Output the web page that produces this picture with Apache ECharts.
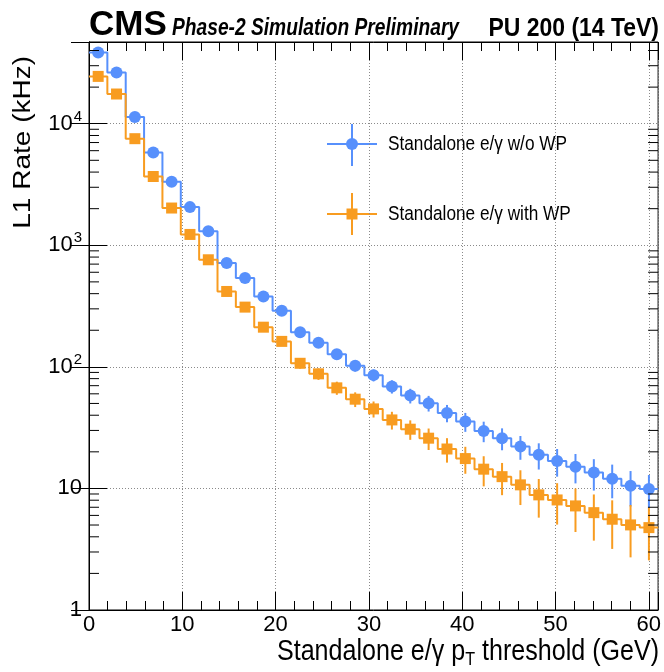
<!DOCTYPE html>
<html><head><meta charset="utf-8">
<script src="https://cdn.jsdelivr.net/npm/echarts@6/dist/echarts.min.js"></script>
<style>html,body{margin:0;padding:0;background:#fff}#c{width:664px;height:672px}</style>
</head><body><div id="c"></div>
<script>
// ---- data ----
const xRange = [0, 61];          // histogram range (GeV)
const nBins = 31;                // number of threshold bins
const rateNoWP = [38600, 26400, 11350, 5800, 3330, 2060, 1304, 714, 537, 379, 290, 193, 158, 127, 102, 85.5, 68.9, 58.0, 50.3, 41.8, 35.5, 29.7, 25.9, 22.1, 18.9, 16.8, 15.1, 13.5, 12.0, 10.5, 9.9];
const errNoWP  = [200, 165, 108, 77, 58, 46, 37, 27, 23, 20, 17.5, 14.5, 13, 12, 10.5, 9.5, 8.6, 8.0, 7.4, 6.8, 6.3, 5.7, 5.3, 4.9, 4.6, 4.3, 4.1, 3.9, 3.7, 3.4, 3.0];
const rateWP   = [24500, 17550, 7530, 3680, 2025, 1228, 760, 417, 310, 212, 162, 107, 87.6, 67.2, 54.2, 45.1, 36.6, 30.7, 25.9, 21.1, 17.6, 14.4, 12.5, 10.7, 8.85, 8.04, 7.18, 6.32, 5.58, 5.01, 4.76];
const errWP    = [160, 135, 88, 62, 46, 36, 28, 21, 18, 15, 13, 10.5, 9.5, 8.3, 7.5, 6.8, 6.1, 5.6, 5.2, 4.8, 4.4, 4.0, 3.7, 3.4, 3.1, 3.0, 2.8, 2.6, 2.4, 2.3, 2.2];
const seriesNames = ['Standalone e/\u03b3 w/o WP', 'Standalone e/\u03b3 with WP'];
const xTickValues = [0, 10, 20, 30, 40, 50, 60];
const yRange = [1, 47000];

const BLUE = '#5790fc', ORANGE = '#f89c20';
const FONT = 'Liberation Sans, Arial, Helvetica, sans-serif';

const binW = (xRange[1] - xRange[0]) / nBins;
const edges = Array.from({length: nBins + 1}, (_, i) => xRange[0] + i * binW);
const centers = edges.slice(0, nBins).map(e => e + binW / 2);

function stepData(vals) {
  const d = [];
  vals.forEach((v, i) => { d.push([edges[i], v]); d.push([edges[i + 1], v]); });
  return d;
}
function pts(vals) { return vals.map((v, i) => [centers[i], v]); }
function errData(vals, errs) { return vals.map((v, i) => [centers[i], v, errs[i]]); }

function errRender(color) {
  return function (params, api) {
    const x = api.value(0), v = api.value(1), e = api.value(2);
    const p1 = api.coord([x, v + e]);
    const p2 = api.coord([x, Math.max(v - e, yRange[0])]);
    return {type: 'line', shape: {x1: p1[0], y1: p1[1], x2: p2[0], y2: p2[1]},
            style: {stroke: color, lineWidth: 2}};
  };
}

// minor log ticks (2..9 x 10^k) drawn on left and right frame edges
const minorY = [];
for (let k = 0; k < 5; k++) for (let m = 2; m <= 9; m++) { const v = m * Math.pow(10, k); if (v < yRange[1]) minorY.push([xRange[0], v]); }

const chart = echarts.init(document.getElementById('c'), null, {renderer: 'canvas'});

const axisCommon = {
  axisLine: {show: true, lineStyle: {color: '#000', width: 1}},
  axisTick: {show: true, inside: true, length: 18, lineStyle: {color: '#000', width: 1}},
};

const option = {
  animation: false,
  backgroundColor: '#fff',
  grid: {left: 89, right: 5, top: 42, bottom: 62, show: true, borderColor: '#000', borderWidth: 1, containLabel: false},
  xAxis: [
    Object.assign({type: 'value', min: xRange[0], max: xRange[1], interval: 10, position: 'bottom',
      minorTick: {show: true, splitNumber: 5, length: 9, lineStyle: {color: '#000', width: 1}},
      axisLabel: {show: true, color: '#000', fontSize: 22, fontFamily: FONT, margin: 4, showMaxLabel: false,
        formatter: v => (xTickValues.indexOf(v) >= 0 ? String(v) : '')},
      splitLine: {show: true, lineStyle: {color: '#8a8a8a', width: 1, type: [1, 2]}}
    }, axisCommon),
    Object.assign({type: 'value', min: xRange[0], max: xRange[1], interval: 10, position: 'top',
      minorTick: {show: true, splitNumber: 5, length: 9, lineStyle: {color: '#000', width: 1}},
      axisLabel: {show: false}, splitLine: {show: false}
    }, axisCommon)
  ],
  yAxis: [
    Object.assign({type: 'log', logBase: 10, min: yRange[0], max: yRange[1], position: 'left',
      axisLabel: {show: true, color: '#000', fontFamily: FONT, margin: 7, showMaxLabel: false,
        formatter: v => {
          const k = Math.round(Math.log10(v));
          if (k === 0) return '{b|1}';
          if (k === 1) return '{b|10}';
          return '{b|10}{s|' + k + '}';
        },
        rich: {b: {fontSize: 22, fontFamily: FONT, color: '#000'},
               s: {fontSize: 15, fontFamily: FONT, color: '#000', padding: [0, 0, 14, 1]}}},
      splitLine: {show: true, lineStyle: {color: '#8a8a8a', width: 1, type: [1, 2]}}
    }, axisCommon),
    Object.assign({type: 'log', logBase: 10, min: yRange[0], max: yRange[1], position: 'right',
      axisLabel: {show: false}, splitLine: {show: false}
    }, axisCommon)
  ],
  series: [
    {type: 'custom', name: 'minorTicks', silent: true, clip: false, data: minorY, z: 5,
      renderItem: (params, api) => {
        const v = api.value(1);
        const l = api.coord([xRange[0], v]), r = api.coord([xRange[1], v]);
        return {type: 'group', children: [
          {type: 'line', shape: {x1: l[0], y1: l[1], x2: l[0] + 10, y2: l[1]}, style: {stroke: '#000', lineWidth: 1}},
          {type: 'line', shape: {x1: r[0], y1: r[1], x2: r[0] - 10, y2: r[1]}, style: {stroke: '#000', lineWidth: 1}}
        ]};
      }},
    {type: 'line', name: seriesNames[0] + ' hist', data: stepData(rateNoWP), showSymbol: false, symbol: 'none',
      lineStyle: {color: BLUE, width: 2}, z: 2, silent: true},
    {type: 'line', name: seriesNames[1] + ' hist', data: stepData(rateWP), showSymbol: false, symbol: 'none',
      lineStyle: {color: ORANGE, width: 2}, z: 2, silent: true},
    {type: 'custom', name: seriesNames[0] + ' err', data: errData(rateNoWP, errNoWP), renderItem: errRender(BLUE), z: 3, silent: true},
    {type: 'custom', name: seriesNames[1] + ' err', data: errData(rateWP, errWP), renderItem: errRender(ORANGE), z: 3, silent: true},
    {type: 'scatter', name: seriesNames[0], data: pts(rateNoWP), symbol: 'circle', symbolSize: 12,
      itemStyle: {color: BLUE, opacity: 1}, z: 4, silent: true},
    {type: 'scatter', name: seriesNames[1], data: pts(rateWP), symbol: 'rect', symbolSize: 11,
      itemStyle: {color: ORANGE, opacity: 1}, z: 4, silent: true}
  ],
  graphic: [
    {type: 'text', x: 89, y: 25, style: {text: 'CMS', font: 'bold 35px ' + FONT, fill: '#000', align: 'left', verticalAlign: 'middle'}},
    {type: 'text', x: 172, y: 28.5, scaleX: 0.80, style: {text: 'Phase-2 Simulation Preliminary', font: 'italic bold 24px ' + FONT, fill: '#000', align: 'left', verticalAlign: 'middle'}},
    {type: 'text', x: 659, y: 28.5, scaleX: 0.90, style: {text: 'PU 200 (14 TeV)', font: 'bold 25.5px ' + FONT, fill: '#000', align: 'right', verticalAlign: 'middle'}},
    {type: 'text', x: 659, y: 652, scaleX: 0.85, style: {
      text: 'Standalone e/\u03b3 p{sub|T} threshold (GeV)', font: '29.5px ' + FONT, fill: '#000', align: 'right', verticalAlign: 'middle',
      rich: {sub: {fontSize: 19, fontFamily: FONT, fill: '#000', padding: [16, 0, 0, 0]}}}},
    {type: 'text', x: 23, y: 56, rotation: Math.PI / 2, scaleY: 0.85, style: {text: 'L1 Rate (kHz)', font: '28px ' + FONT, fill: '#000', align: 'right', verticalAlign: 'middle'}},
    // legend
    {type: 'line', shape: {x1: 327, y1: 144, x2: 377, y2: 144}, style: {stroke: BLUE, lineWidth: 2}},
    {type: 'line', shape: {x1: 352, y1: 124, x2: 352, y2: 166}, style: {stroke: BLUE, lineWidth: 2}},
    {type: 'circle', shape: {cx: 352, cy: 144, r: 6}, style: {fill: BLUE}},
    {type: 'text', x: 388, y: 144, scaleX: 0.84, style: {text: seriesNames[0], font: '20.5px ' + FONT, fill: '#000', align: 'left', verticalAlign: 'middle'}},
    {type: 'line', shape: {x1: 327, y1: 214, x2: 377, y2: 214}, style: {stroke: ORANGE, lineWidth: 2}},
    {type: 'line', shape: {x1: 352, y1: 193, x2: 352, y2: 235}, style: {stroke: ORANGE, lineWidth: 2}},
    {type: 'rect', shape: {x: 346.5, y: 208.5, width: 11, height: 11}, style: {fill: ORANGE}},
    {type: 'text', x: 388, y: 214, scaleX: 0.84, style: {text: seriesNames[1], font: '20.5px ' + FONT, fill: '#000', align: 'left', verticalAlign: 'middle'}}
  ]
};
chart.setOption(option);
</script></body></html>
